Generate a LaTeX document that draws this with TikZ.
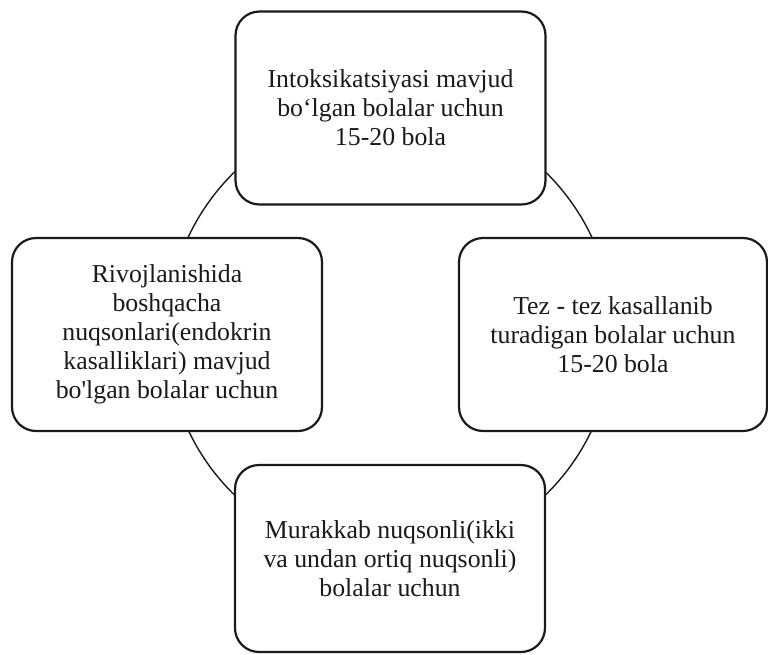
\documentclass[tikz,border=0pt]{standalone}
\usepackage{fontspec}
\setmainfont{Liberation Serif}
\usetikzlibrary{backgrounds}
\definecolor{ink}{HTML}{1A1A1A}

\begin{document}
\begin{tikzpicture}[x=0.5pt,y=-0.5pt,
    font=\fontsize{12.9}{14.5}\selectfont,
    box/.style={draw=ink,line width=1.1pt,fill=white,rounded corners=12pt,
      align=center,text=ink,minimum width=155pt,minimum height=96.5pt},
    ring/.style={draw=ink,line width=0.7pt}]
  \useasboundingbox (0,0) rectangle (768,655);
  \node[box] (top) at (390.5,108) {Intoksikatsiyasi mavjud\\bo‘lgan bolalar uchun\\15-20 bola};
  \node[box] (left) at (167,334.5) {Rivojlanishida\\boshqacha\\nuqsonlari(endokrin\\kasalliklari) mavjud\\bo\textquotesingle lgan bolalar uchun};
  \node[box,minimum width=154pt] (right) at (613,334.5) {Tez - tez kasallanib\\turadigan bolalar uchun\\15-20 bola};
  \node[box,minimum height=93.5pt] (bot) at (390,558.5) {Murakkab nuqsonli(ikki\\va undan ortiq nuqsonli)\\bolalar uchun};
  \begin{scope}[on background layer]
    \draw[ring] (top.center) to[bend right=45] (left.center)
      to[bend right=45] (bot.center) to[bend right=45] (right.center)
      to[bend right=45] (top.center);
  \end{scope}
\end{tikzpicture}
\end{document}
